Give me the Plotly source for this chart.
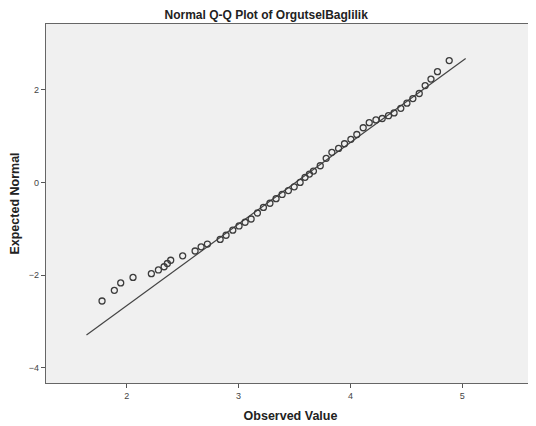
import plotly.graph_objects as go

title_text = "Normal Q-Q Plot of OrgutselBaglilik"
x_title = "Observed Value"
y_title = "Expected Normal"

observed = [1.779, 1.889, 1.946, 2.056, 2.22, 2.283, 2.334, 2.363, 2.393, 2.50,
            2.611, 2.665, 2.721, 2.835, 2.888, 2.948, 3.004, 3.058, 3.112, 3.168,
            3.222, 3.28, 3.335, 3.389, 3.445, 3.497, 3.55, 3.594, 3.633, 3.669,
            3.73, 3.783, 3.834, 3.894, 3.947, 4.004, 4.057, 4.114, 4.168, 4.228,
            4.284, 4.34, 4.39, 4.45, 4.505, 4.558, 4.615, 4.668, 4.72, 4.778, 4.883]
expected = [-2.56, -2.33, -2.17, -2.05, -1.97, -1.89, -1.82, -1.75, -1.68, -1.585,
            -1.48, -1.39, -1.33, -1.23, -1.14, -1.03, -0.94, -0.86, -0.79, -0.66,
            -0.54, -0.45, -0.35, -0.26, -0.175, -0.095, 0.0, 0.11, 0.18, 0.245,
            0.36, 0.52, 0.65, 0.735, 0.835, 0.93, 1.035, 1.18, 1.29, 1.35,
            1.38, 1.44, 1.50, 1.60, 1.71, 1.81, 1.92, 2.09, 2.23, 2.39, 2.63]

mean_val = 3.51
sd_val = 0.568
line_x = [1.64, 5.03]
line_y = [(v - mean_val) / sd_val for v in line_x]

x_ticks = [2, 3, 4, 5]
y_ticks = [-4, -2, 0, 2]

fig = go.Figure()
fig.add_trace(go.Scatter(x=line_x, y=line_y, mode="lines",
                         line=dict(color="#444444", width=1.2), hoverinfo="skip"))
fig.add_trace(go.Scatter(x=observed, y=expected, mode="markers",
                         marker=dict(symbol="circle-open", size=6,
                                     color="#3c3c3c", line=dict(width=1.3))))

font_family = "Liberation Sans, Arial, sans-serif"
fig.update_layout(
    width=528, height=418,
    margin=dict(l=38, r=1, t=16, b=43),
    paper_bgcolor="white", plot_bgcolor="#f0f0f0",
    showlegend=False,
    title=dict(text="<b>" + title_text + "</b>", x=0.489, xanchor="center",
               y=0.983, yanchor="middle",
               font=dict(family=font_family, size=12, color="#222222")),
    font=dict(family=font_family),
)
fig.update_xaxes(range=[1.278, 5.65], tickvals=x_ticks, ticks="outside", ticklen=4,
                 tickcolor="#555555", tickwidth=1, showgrid=False, zeroline=False,
                 showline=True, linecolor="#666666", linewidth=1.2, mirror=True,
                 tickfont=dict(size=9, color="#444444"),
                 title=dict(text="<b>" + x_title + "</b>", standoff=11,
                            font=dict(size=12.5, color="#222222")))
fig.update_yaxes(range=[-4.33, 3.42], tickvals=y_ticks, ticks="outside", ticklen=4,
                 tickcolor="#555555", tickwidth=1, showgrid=False, zeroline=False,
                 showline=True, linecolor="#666666", linewidth=1.2, mirror=True,
                 tickfont=dict(size=9, color="#444444"),
                 title=dict(text="<b>" + y_title + "</b>", standoff=6,
                            font=dict(size=12.5, color="#222222")))

fig.write_html("out.html")
